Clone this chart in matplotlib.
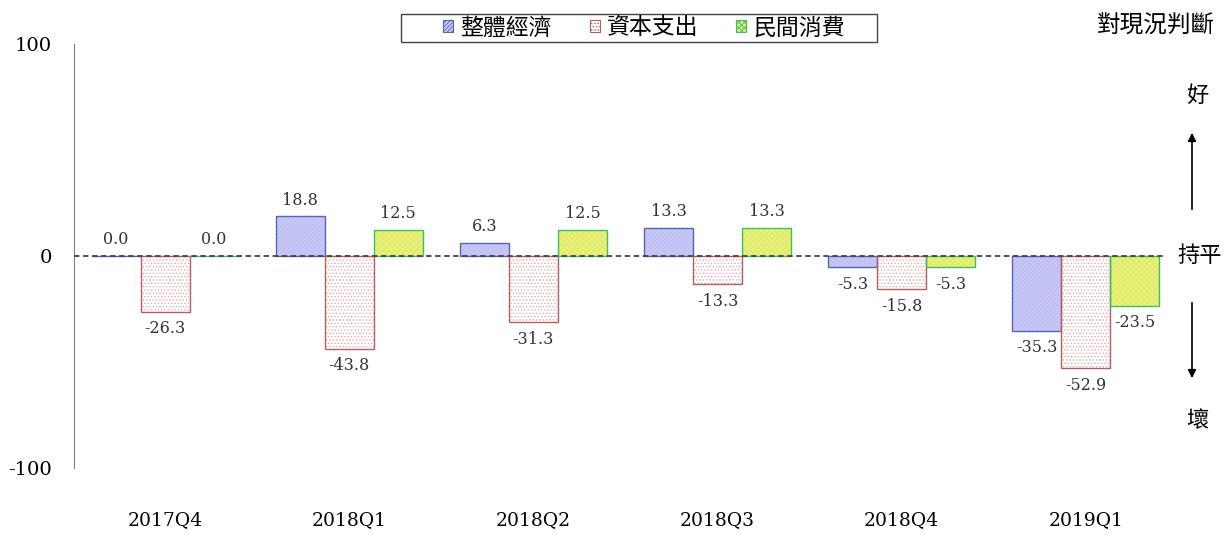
import numpy as np
import matplotlib.pyplot as plt
from matplotlib.patches import Patch, Rectangle

# data
quarters = ["2017Q4", "2018Q1", "2018Q2", "2018Q3", "2018Q4", "2019Q1"]
economy = [0.0, 18.8, 6.3, 13.3, -5.3, -35.3]
capex = [-26.3, -43.8, -31.3, -13.3, -15.8, -52.9]
consumption = [0.0, 12.5, 12.5, 13.3, -5.3, -23.5]
series_names = ["整體經濟", "資本支出", "民間消費"]

W, H = 1224, 536
cjk = ["Noto Sans CJK TC", "DejaVu Sans"]
num_font = "DejaVu Serif"
plt.rcParams["hatch.linewidth"] = 0.6

fig = plt.figure(figsize=(W / 100, H / 100), dpi=100)
ax = fig.add_axes([74 / W, 1 - 468 / H, (1165 - 74) / W, (468 - 44) / H])

x = np.arange(len(quarters))
w = 0.266

# (fill, hatch, hatch colour, edge colour)
styles = [
    ("#c9c9f7", "////////", "#b8b8f0", "#5565b0"),
    ("#ffffff", ".....", "#e8a8ae", "#b86060"),
    ("#eaf27a", "xxxxxx", "#dce86a", "#3cc060"),
]
all_vals = [economy, capex, consumption]

for k, vals in enumerate(all_vals):
    fill, hatch, hcol, ecol = styles[k]
    pos = x + (k - 1) * w
    ax.bar(pos, vals, w, color=fill, hatch=hatch, edgecolor=hcol, linewidth=0, zorder=2)
    ax.bar(pos, vals, w, fill=False, edgecolor=ecol, linewidth=1.0, zorder=3)
    for px, v in zip(pos, vals):
        off = 16 if v >= 0 else -17
        ax.annotate(f"{v:.1f}", (px, v), xytext=(0, off), textcoords="offset pixels",
                    ha="center", va="center", fontsize=11.5, family=num_font, color="#333333")

ax.axhline(0, color="#444444", ls="--", lw=1.3, dashes=(3, 2), zorder=4)

ax.set_xlim(-0.495, 5.43)
ax.set_ylim(-100, 100)
ax.set_yticks([-100, 0, 100])
ax.set_yticklabels(["-100", "0", "100"], family=num_font, fontsize=14)
ax.set_xticks(x)
ax.set_xticklabels(quarters, family=num_font, fontsize=13.5)
ax.tick_params(axis="y", length=0, pad=16)
ax.tick_params(axis="x", length=0, pad=31)
for s in ["top", "right", "bottom"]:
    ax.spines[s].set_visible(False)
ax.spines["left"].set_color("#808080")

# legend (frame drawn separately so it can be wider than the entries)
handles = [Patch(facecolor=s[0], hatch=s[1], edgecolor=s[3], linewidth=0.8) for s in styles]
fig.legend(handles, series_names, loc="center", ncol=3,
           bbox_to_anchor=(644 / W, 1 - 28 / H),
           prop={"family": cjk, "size": 16.5}, frameon=False,
           handlelength=0.45, handleheight=0.45, handletextpad=0.3,
           columnspacing=1.65, borderpad=0.1, borderaxespad=0)
fig.add_artist(Rectangle((401 / W, 1 - 42 / H), 476 / W, 28 / H, transform=fig.transFigure,
                         fill=False, edgecolor="#444444", linewidth=1.0))

# right side annotations
def fx(px):
    return px / W

def fy(py):
    return 1 - py / H

fig.text(fx(1156), fy(26), "對現況判斷", family=cjk, fontsize=17, ha="center", va="center")
fig.text(fx(1197), fy(95), "好", family=cjk, fontsize=16, ha="center", va="center")
fig.text(fx(1200), fy(256), "持平", family=cjk, fontsize=16, ha="center", va="center")
fig.text(fx(1197), fy(421), "壞", family=cjk, fontsize=16, ha="center", va="center")
fig.add_artist(plt.Annotation("", xy=(fx(1192), fy(130)), xytext=(fx(1192), fy(212)),
                              xycoords="figure fraction",
                              arrowprops=dict(arrowstyle="-|>", color="black", lw=1.2,
                                              mutation_scale=12)))
fig.add_artist(plt.Annotation("", xy=(fx(1192), fy(381)), xytext=(fx(1192), fy(300)),
                              xycoords="figure fraction",
                              arrowprops=dict(arrowstyle="-|>", color="black", lw=1.2,
                                              mutation_scale=12)))

fig.savefig("out.png", dpi=100)
